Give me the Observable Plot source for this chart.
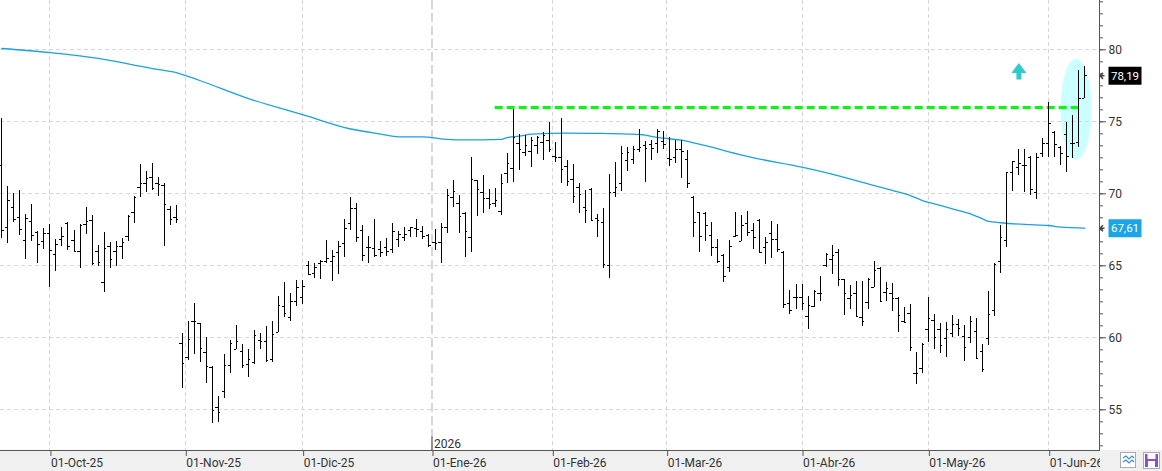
<!DOCTYPE html>
<html><head><meta charset="utf-8">
<script src="https://cdn.jsdelivr.net/npm/d3@7"></script>
<script src="https://cdn.jsdelivr.net/npm/@observablehq/plot@0.6"></script>
<style>
html,body{margin:0;padding:0;background:#fff;}
#chart{width:1162px;height:471px;overflow:hidden;}
</style></head><body><div id="chart"></div>
<script>
// ---- data (daily OHLC, bar index 0..180) ----
const open = [72.0,67.69,69.03,68.33,66.74,68.06,67.34,66.67,67.22,65.76,
66.81,67.94,66.74,65.97,67.85,68.13,65.97,63.82,66.34,66.0,
66.34,67.01,68.68,70.42,70.69,71.11,70.69,70.58,68.91,68.33,
59.58,58.66,61.11,60.97,58.96,57.92,55.14,56.27,58.08,59.17,
59.03,58.15,58.31,59.81,59.72,58.47,60.35,62.18,61.44,62.5,
62.78,65.02,64.44,65.14,65.32,65.3,65.93,66.53,67.96,68.96,
67.45,66.3,66.18,66.11,66.25,66.16,66.81,66.99,67.45,67.57,
67.36,67.11,66.6,66.64,67.66,69.72,69.31,68.66,66.99,70.93,
70.07,69.65,69.35,68.75,71.39,71.74,73.47,72.89,72.92,73.36,
73.59,73.7,72.62,72.55,71.87,70.97,70.42,69.03,70.32,68.26,
67.99,65.02,70.12,70.69,72.31,72.36,73.06,73.36,73.4,73.52,
73.63,72.43,72.5,73.06,72.36,69.77,68.68,68.61,67.11,66.3,
65.72,64.91,67.04,66.72,67.96,67.45,68.15,66.3,67.27,66.81,
65.95,62.36,62.78,62.78,61.48,62.18,63.1,65.02,65.42,65.95,
64.03,62.71,63.06,61.39,62.43,63.52,64.79,63.13,63.06,62.75,
61.16,61.67,57.5,57.85,60.56,61.2,60.56,59.93,60.32,60.93,
60.09,60.05,60.44,59.07,59.93,61.9,65.3,66.76,71.5,71.85,
72.0,72.5,70.12,72.82,73.47,74.28,73.19,74.12,73.47,73.54,
76.6];
const high = [75.21,70.51,70.0,70.23,68.56,69.26,67.38,67.62,67.87,66.83,
67.66,68.01,67.45,67.87,69.05,68.5,66.41,67.31,66.6,66.69,
66.92,68.5,69.81,72.04,71.55,72.11,71.11,70.69,69.12,69.19,
60.28,61.13,62.41,60.97,60.05,58.01,55.93,58.84,59.81,60.86,
59.54,59.17,60.51,60.32,60.79,61.16,62.87,63.87,63.06,63.98,
63.98,65.3,65.14,65.37,66.76,66.06,66.67,68.22,69.77,69.35,
67.8,67.04,68.22,66.71,66.92,67.96,67.36,67.64,67.69,68.22,
67.73,67.18,67.5,67.92,70.3,70.93,69.86,68.7,72.55,70.93,
71.27,70.32,70.37,71.34,72.82,75.86,74.12,74.03,73.89,73.98,
74.24,74.95,73.56,75.21,72.31,72.04,70.74,70.23,70.37,68.54,
69.0,71.34,72.2,73.29,73.24,73.29,74.47,73.63,73.7,74.44,
74.35,73.89,73.7,73.7,73.01,69.84,68.73,68.68,68.03,66.81,
65.79,66.76,68.73,68.5,68.77,67.92,68.19,66.94,68.06,67.87,
66.0,63.29,63.7,63.7,62.87,63.29,64.26,65.88,66.41,66.13,
64.05,63.63,63.94,63.91,64.1,65.3,64.91,63.82,63.75,62.78,
62.08,62.31,58.96,59.63,62.78,61.62,60.97,61.09,61.53,61.27,
60.86,61.48,61.32,59.54,63.24,65.19,67.8,71.46,72.27,73.08,
73.08,72.6,72.78,73.82,76.37,74.35,73.29,74.98,75.44,78.56,
78.84];
const low = [66.88,66.57,68.03,67.11,65.46,66.71,65.19,66.16,63.5,64.63,
66.37,66.09,65.9,64.84,67.2,65.0,64.93,63.17,64.84,64.98,
65.42,66.71,67.96,69.72,70.12,70.25,69.84,66.37,67.78,67.96,
56.46,58.43,58.84,58.31,56.85,54.07,54.14,55.81,57.5,59.17,
57.89,57.22,58.13,59.17,58.26,58.31,60.35,61.44,61.16,62.18,
62.29,64.33,64.1,64.07,65.14,63.94,64.38,65.6,67.45,66.64,
65.32,65.19,65.6,65.56,65.67,65.83,66.3,66.71,66.99,66.99,
66.85,66.25,66.06,65.19,67.27,69.07,67.27,65.6,65.95,68.43,
68.66,68.91,69.05,68.5,70.69,70.81,71.62,72.62,71.85,72.73,
72.31,72.85,72.18,70.74,70.51,69.31,68.66,67.96,68.1,66.99,
64.84,64.1,69.77,70.19,71.57,72.04,72.89,70.81,72.31,72.82,
73.06,71.92,72.08,71.09,70.39,66.94,65.9,66.71,65.67,65.14,
63.82,64.56,66.99,66.72,67.04,66.13,65.88,65.09,65.53,65.95,
62.01,61.6,61.94,61.9,60.56,62.13,62.55,64.86,64.4,63.56,
61.55,61.97,61.39,60.81,61.94,63.52,62.43,62.55,61.85,60.35,
61.02,59.07,56.74,57.55,59.7,59.17,58.94,58.66,60.05,60.09,
58.38,59.63,58.54,57.62,59.44,61.48,64.44,66.3,70.19,71.27,
70.12,69.88,69.58,72.5,72.5,72.55,71.97,71.5,72.43,73.19,
76.6];
const close = [67.45,69.54,68.19,67.5,68.29,67.08,66.46,67.27,66.04,66.46,
67.01,66.32,66.0,67.78,68.06,65.14,65.21,66.2,65.44,66.34,
66.62,68.43,69.77,70.69,71.06,70.35,70.65,69.24,68.22,68.19,
58.19,59.86,61.16,59.24,58.01,54.95,54.79,58.08,59.58,59.72,
58.06,58.47,60.16,59.72,58.4,60.21,62.22,61.67,62.5,63.47,
63.56,64.4,64.86,65.32,65.49,65.65,66.37,67.57,68.96,66.94,
65.69,66.3,65.72,65.9,66.02,67.41,67.18,67.18,67.64,67.52,
67.06,66.41,66.53,67.69,69.86,70.14,68.4,67.36,71.0,70.28,
69.65,69.26,69.54,70.69,72.13,73.94,73.1,73.33,73.7,73.94,
74.05,73.06,72.52,71.67,70.86,69.81,69.93,68.84,68.15,68.15,
65.07,70.12,70.42,72.82,72.89,73.06,73.24,73.13,73.15,74.35,
73.43,72.38,73.06,72.96,70.69,68.03,67.04,67.8,66.3,65.28,
64.28,66.34,67.11,67.83,67.3,66.94,65.9,66.6,66.81,66.11,
62.31,61.9,62.78,62.36,62.25,63.22,63.1,65.79,65.72,64.03,
63.1,62.94,61.48,61.16,64.03,64.68,62.55,63.4,62.71,61.55,
61.09,59.31,57.55,59.54,61.32,60.05,59.47,60.58,60.9,60.63,
59.35,61.13,58.54,57.78,61.62,65.09,66.94,71.46,72.27,72.08,
72.0,70.28,72.55,73.47,74.86,73.43,72.78,72.6,73.47,76.6,
78.19];

// moving average read at sample bars
const maIdx = [0,8,16,25,29,33,41,50,58,63,66,70,73,76,80,83,84,86,88,94,99,104,107,108,110,113,115,118,121,125,133,142,145,148,151,153,155,158,161,163,164,166,170,174,176,180];
const maVal = [80.09,79.8,79.4,78.7,78.42,77.85,76.61,75.5,74.5,74.15,73.96,73.96,73.82,73.75,73.75,73.78,73.9,74.0,74.14,74.22,74.2,74.15,74.08,73.98,73.86,73.72,73.54,73.24,72.89,72.5,71.85,70.92,70.57,70.23,69.88,69.53,69.3,68.96,68.61,68.26,68.08,67.99,67.87,67.8,67.68,67.61];

const monthTickIdx = [8,30.5,50,71.5,91.5,110.5,133,154,174];
const monthTickLabels = ["01-Oct-25","01-Nov-25","01-Dic-25","01-Ene-26","01-Feb-26","01-Mar-26","01-Abr-26","01-May-26","01-Jun-26"];
const yTicks = [55,60,65,70,75,80];
const yearIdx = 71.5, yearLabel = "2026";
const resistance = 76.0, resistanceFrom = 82, resistanceTo = 179;
const lastClose = 78.19, lastMA = 67.61;
const arrowAt = [{i:169.05, v:78.5}];
const ellipseAt = [{i:178.55, v:75.87}];

// ---- build ----
const bars = open.map((o,i)=>({i, o, h:high[i], l:low[i], c:close[i]}));
const ma = maIdx.map((i,k)=>({i, v:maVal[k]}));
const minorTicks = d3.range(-33, 5).map(k => 80 + k*5/6);
const fmt = v => v.toFixed(2).replace(".", ",");

const rectSym = (w,h) => ({draw(ctx){ctx.moveTo(-w/2,-h/2);ctx.lineTo(w/2,-h/2);ctx.lineTo(w/2,h/2);ctx.lineTo(-w/2,h/2);ctx.closePath();}});
const ellipseSym = (rx,ry) => ({draw(ctx){const k=0.5523;ctx.moveTo(rx,0);
  ctx.bezierCurveTo(rx,ry*k,rx*k,ry,0,ry);ctx.bezierCurveTo(-rx*k,ry,-rx,ry*k,-rx,0);
  ctx.bezierCurveTo(-rx,-ry*k,-rx*k,-ry,0,-ry);ctx.bezierCurveTo(rx*k,-ry,rx,-ry*k,rx,0);ctx.closePath();}});
const arrowSym = {draw(ctx){ctx.moveTo(0,-8.5);ctx.lineTo(7.5,1.5);ctx.lineTo(2.5,1.5);ctx.lineTo(2.5,8);ctx.lineTo(-2.5,8);ctx.lineTo(-2.5,1.5);ctx.lineTo(-7.5,1.5);ctx.closePath();}};
const pointerSym = {draw(ctx){ctx.moveTo(3.5,-3);ctx.lineTo(0.5,0);ctx.lineTo(3.5,3);ctx.moveTo(0.5,0);ctx.lineTo(5,0);}};
const vlineSym = h => ({draw(ctx){ctx.moveTo(0,-h);ctx.lineTo(0,0);}});

const chart = Plot.plot({
  width: 1162, height: 471,
  marginTop: 0, marginRight: 63, marginBottom: 21, marginLeft: 0,
  style: {fontFamily: "Roboto, 'Noto Sans', sans-serif", fontSize: "12px", color: "#333",
          background: "linear-gradient(#fff 0, #fff 450px, #f0f0f0 450px)"},
  x: {type: "linear", domain: [0, 180], range: [1.3, 1084.3], label: null},
  y: {domain: [55, 80], range: [409.3, 49.3], label: null},
  marks: [
    Plot.dot(ellipseAt, {x: "i", y: "v", symbol: ellipseSym(15.5, 50.5), fill: "#ccffff", stroke: "none"}),
    Plot.ruleY(yTicks, {stroke: "#d6d6d6", strokeDasharray: "4,3", shapeRendering: "crispEdges"}),
    Plot.ruleX(monthTickIdx.filter(d => d !== yearIdx), {stroke: "#d6d6d6", strokeDasharray: "4,3", shapeRendering: "crispEdges"}),
    Plot.ruleX([yearIdx], {stroke: "#bcbcbc", strokeWidth: 1.2, strokeDasharray: "9,4"}),
    Plot.dot([yearIdx], {x: d => d, frameAnchor: "bottom", symbol: vlineSym(14), stroke: "#777", fill: "none"}),
    Plot.text([yearIdx], {x: d => d, frameAnchor: "bottom", text: () => yearLabel, textAnchor: "start", lineAnchor: "bottom", dx: 2, dy: -3, fill: "#333", fontSize: 12}),
    Plot.line(ma, {x: "i", y: "v", stroke: "#1ba1e2", strokeWidth: 1.3, curve: "monotone-x"}),
    Plot.ruleY([resistance], {x1: () => resistanceFrom, x2: () => resistanceTo, stroke: "#00ff00", strokeWidth: 3, strokeDasharray: "8,4"}),
    Plot.ruleX(bars, {x: "i", y1: "l", y2: "h", stroke: "#000", strokeWidth: 1, shapeRendering: "crispEdges"}),
    Plot.ruleY(bars, {y: "o", x1: d => d.i - 0.4, x2: "i", stroke: "#000", strokeWidth: 1, shapeRendering: "crispEdges"}),
    Plot.ruleY(bars, {y: "c", x1: "i", x2: d => d.i + 0.4, stroke: "#000", strokeWidth: 1, shapeRendering: "crispEdges"}),
    Plot.dot(arrowAt, {x: "i", y: "v", symbol: arrowSym, fill: "#33c9c9", stroke: "none"}),
    Plot.frame({anchor: "bottom", stroke: "#555"}),
    Plot.frame({anchor: "right", stroke: "#555"}),
    Plot.axisY(minorTicks, {anchor: "right", tickSize: 3, tickFormat: () => "", label: null, stroke: "#555"}),
    Plot.axisY(yTicks, {anchor: "right", tickSize: 6, tickPadding: 3, label: null, fontSize: 12, fill: "#333", stroke: "#555"}),
    Plot.axisX(monthTickIdx, {anchor: "bottom", tickSize: 6, tickPadding: 2, label: null, textAnchor: "start", dx: 1, fontSize: 12, fill: "#333", stroke: "#555",
      tickFormat: d => monthTickLabels[monthTickIdx.indexOf(d)]}),
    Plot.dot([lastClose], {y: d => d, frameAnchor: "right", dx: 25.5, symbol: rectSym(33, 18), fill: "#000", stroke: "none"}),
    Plot.text([lastClose], {y: d => d, frameAnchor: "right", dx: 25.5, textAnchor: "middle", text: d => fmt(d), fill: "#fff", fontSize: 11.5}),
    Plot.dot([lastClose], {y: d => d, frameAnchor: "right", symbol: pointerSym, stroke: "#444", fill: "none"}),
    Plot.dot([lastMA], {y: d => d, frameAnchor: "right", dx: 25.5, symbol: rectSym(33, 18), fill: "#1aa6e6", stroke: "none"}),
    Plot.text([lastMA], {y: d => d, frameAnchor: "right", dx: 25.5, textAnchor: "middle", text: d => fmt(d), fill: "#fff", fontSize: 11.5}),
    Plot.dot([lastMA], {y: d => d, frameAnchor: "right", symbol: pointerSym, stroke: "#444", fill: "none"})
  ]
});
document.getElementById("chart").appendChild(chart);

// bottom-right toolbar (decoration)
const svg = d3.select(chart);
const tb = svg.append("g");
tb.append("rect").attr("x", 1100).attr("y", 451).attr("width", 62).attr("height", 20).attr("fill", "#f0f0f0");
tb.append("rect").attr("x", 1120.5).attr("y", 452.5).attr("width", 15).attr("height", 15).attr("fill", "#fff").attr("stroke", "#aaa");
tb.append("path").attr("d", "M1123,458 l3,-2 l3,3 l3,-3 l2,2 M1123,462 l3,-2 l3,3 l3,-3 l2,2").attr("fill", "none").attr("stroke", "#3a8fd8").attr("stroke-width", 1.2);
tb.append("rect").attr("x", 1143.5).attr("y", 452.5).attr("width", 16).attr("height", 16).attr("fill", "#fff").attr("stroke", "#aaa");
tb.append("rect").attr("x", 1145).attr("y", 454).attr("width", 13).attr("height", 13).attr("fill", "#8a4fc8");
tb.append("rect").attr("x", 1147.5).attr("y", 454).attr("width", 8).attr("height", 5).attr("fill", "#fff");
tb.append("rect").attr("x", 1148).attr("y", 461).attr("width", 7).attr("height", 6).attr("fill", "#fff");
</script>
</body></html>
